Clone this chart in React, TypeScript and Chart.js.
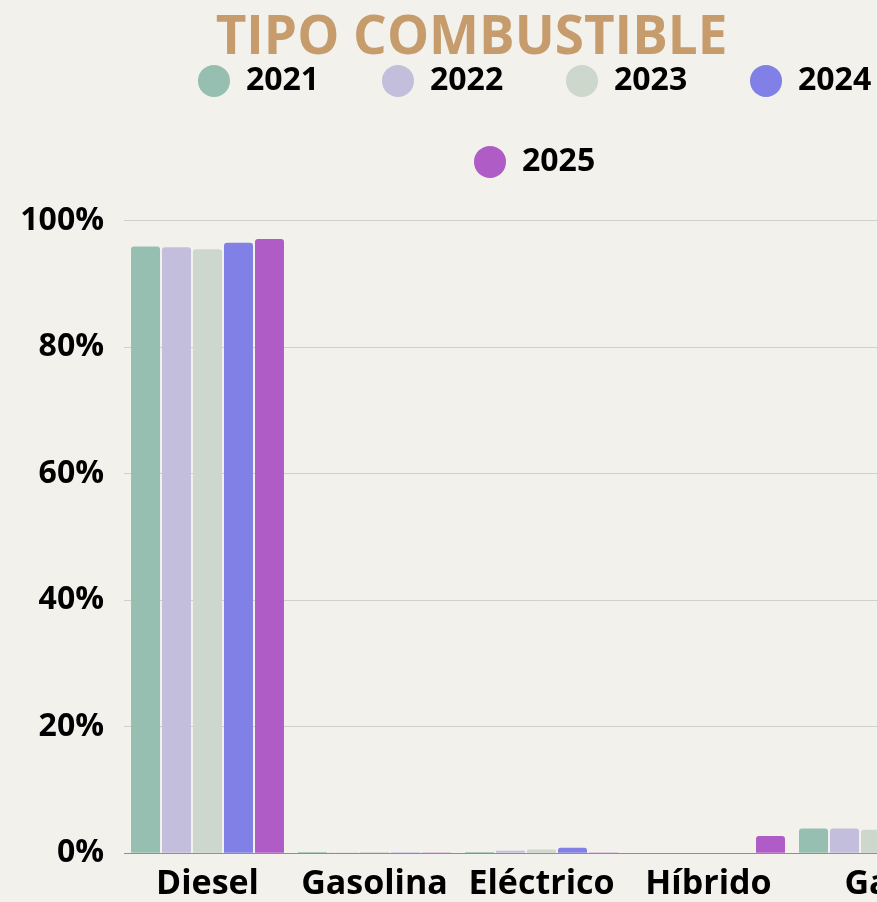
import React, { useEffect, useRef } from 'react';
import { Chart, registerables } from 'chart.js';

Chart.register(...registerables);

const categories = ['Diesel', 'Gasolina', 'Eléctrico', 'Híbrido', 'Gas'];
const years = ['2021', '2022', '2023', '2024', '2025'];
const values2021 = [95.9, 0.2, 0.2, 0, 3.9];
const values2022 = [95.8, 0.05, 0.4, 0, 3.9];
const values2023 = [95.5, 0.2, 0.6, 0, 3.7];
const values2024 = [96.5, 0.05, 0.85, 0, 2.6];
const values2025 = [97.1, 0.05, 0.1, 2.7, 0.1];
const seriesValues = [values2021, values2022, values2023, values2024, values2025];
const seriesColors = ['#96bfb2', '#c3bedc', '#cdd7cb', '#8080e6', '#b05cc6'];
const yTicks = [0, 20, 40, 60, 80, 100];

const BG = '#f2f1ec';
const FONT = "'Open Sans', 'Noto Sans', sans-serif";

export default function App() {
  const canvasRef = useRef<HTMLCanvasElement | null>(null);

  useEffect(() => {
    const canvas = canvasRef.current;
    if (!canvas) return;
    Chart.defaults.font.family = FONT;
    const chart = new Chart(canvas, {
      type: 'bar',
      data: {
        labels: categories,
        datasets: years.map((y, i) => ({
          label: y,
          data: seriesValues[i],
          backgroundColor: seriesColors[i],
          borderWidth: 0,
          borderRadius: 3,
          barPercentage: 0.935,
          categoryPercentage: 0.928,
        })),
      },
      options: {
        responsive: false,
        animation: false,
        devicePixelRatio: 1,
        layout: { padding: 0 },
        plugins: {
          tooltip: { enabled: false },
          title: {
            display: true,
            text: 'TIPO COMBUSTIBLE',
            color: '#c69c6d',
            font: { family: FONT, size: 53, weight: 'bold', lineHeight: 1.2 },
            padding: { top: 7, bottom: -54.7 },
          },
          legend: {
            display: true,
            position: 'top',
            fullSize: false,
            align: 'center',
            labels: {
              usePointStyle: true,
              pointStyle: 'circle',
              boxWidth: 32,
              boxHeight: 22.63,
              padding: 49,
              color: '#000000',
              font: { family: FONT, size: 32, weight: 'bold' },
              generateLabels: (ch: any) => {
                const base = Chart.defaults.plugins.legend.labels.generateLabels(ch);
                return base.map((item: any, i: number) => ({
                  ...item,
                  text: item.text + '\u2009\u2009\u200A',
                  fillStyle: seriesColors[i],
                  strokeStyle: seriesColors[i],
                  lineWidth: 0,
                  pointStyle: 'circle',
                }));
              },
            },
          },
        },
        scales: {
          x: {
            grid: { display: false },
            border: { display: true, color: '#8f8f8f', width: 1 },
            ticks: {
              color: '#000000',
              font: { family: FONT, size: 34, weight: 'bold' },
              padding: 3,
              maxRotation: 0,
              autoSkip: false,
            },
          },
          y: {
            min: 0,
            max: 105.18,
            afterBuildTicks: (s: any) => {
              s.ticks = yTicks.map((v) => ({ value: v }));
            },
            afterFit: (s: any) => {
              s.width = 140;
            },
            grid: {
              color: (c: any) => (c.tick && c.tick.value === 0 ? '#8f8f8f' : '#cfcfcb'),
              lineWidth: 1,
              drawTicks: false,
            },
            border: { display: false },
            ticks: {
              color: '#000000',
              font: { family: FONT, size: 32, weight: 'bold' },
              padding: 20,
              callback: (v: any) => v + '%',
            },
          },
        },
      },
    });
    return () => chart.destroy();
  }, []);

  return (
    <div
      style={{
        position: 'fixed',
        left: 0,
        top: 0,
        width: '100vw',
        height: '100vh',
        overflow: 'hidden',
        background: BG,
      }}
    >
      <canvas
        ref={canvasRef}
        width={975}
        height={908}
        style={{ position: 'absolute', left: -16, top: 0, width: 975, height: 908, display: 'block' }}
      />
    </div>
  );
}
